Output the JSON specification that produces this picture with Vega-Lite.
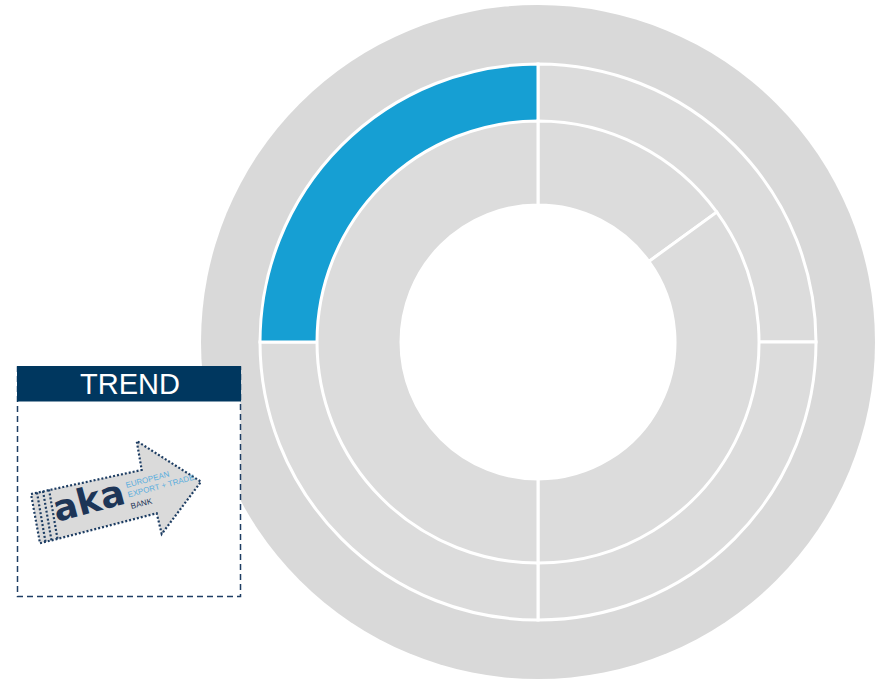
{
  "$schema": "https://vega.github.io/schema/vega-lite/v6.json",
  "width": 886,
  "height": 680,
  "padding": 0,
  "autosize": {"type": "none"},
  "background": "white",
  "config": {"view": {"stroke": null}},
  "datasets": {
    "outer": [
      {"segment": "Q1", "ord": 1, "value": 25, "highlight": "no"},
      {"segment": "Q2", "ord": 2, "value": 25, "highlight": "no"},
      {"segment": "Q3", "ord": 3, "value": 25, "highlight": "no"},
      {"segment": "Q4", "ord": 4, "value": 25, "highlight": "yes"}
    ],
    "inner": [
      {"segment": "A", "ord": 1, "value": 15},
      {"segment": "B", "ord": 2, "value": 35},
      {"segment": "C", "ord": 3, "value": 50}
    ],
    "arrow": [
      {"i": 0, "px": 31, "py": 494},
      {"i": 1, "px": 141.7, "py": 470},
      {"i": 2, "px": 136.7, "py": 441},
      {"i": 3, "px": 201, "py": 481.7},
      {"i": 4, "px": 161.7, "py": 534},
      {"i": 5, "px": 156.7, "py": 513.3},
      {"i": 6, "px": 40, "py": 543.3},
      {"i": 7, "px": 31, "py": 494}
    ],
    "perf": [
      {"line": "p1", "i": 0, "px": 37, "py": 492.5},
      {"line": "p1", "i": 1, "px": 45.5, "py": 542},
      {"line": "p2", "i": 0, "px": 43, "py": 491},
      {"line": "p2", "i": 1, "px": 51.5, "py": 540.5},
      {"line": "p3", "i": 0, "px": 49, "py": 489.5},
      {"line": "p3", "i": 1, "px": 57.5, "py": 539}
    ]
  },
  "layer": [
    {
      "data": {"values": [{}]},
      "mark": {"type": "arc", "radius": 337, "theta": 0, "theta2": 6.2832, "fill": "#d9d9d9"},
      "encoding": {
        "x": {"datum": 538, "type": "quantitative", "scale": {"domain": [0, 886], "nice": false, "zero": false}, "axis": null},
        "y": {"datum": 342, "type": "quantitative", "scale": {"domain": [680, 0], "nice": false, "zero": false}, "axis": null}
      }
    },
    {
      "data": {"name": "outer"},
      "mark": {"type": "arc", "radius": 278, "radius2": 219, "stroke": "white", "strokeWidth": 3},
      "encoding": {
        "theta": {"field": "value", "type": "quantitative", "stack": true},
        "order": {"field": "ord"},
        "color": {"field": "highlight", "type": "nominal", "scale": {"domain": ["no", "yes"], "range": ["#dcdcdc", "#169fd3"]}, "legend": null},
        "x": {"datum": 538, "type": "quantitative"},
        "y": {"datum": 342, "type": "quantitative"}
      }
    },
    {
      "data": {"name": "inner"},
      "mark": {"type": "arc", "radius": 221, "radius2": 137, "fill": "#dcdcdc", "stroke": "white", "strokeWidth": 3},
      "encoding": {
        "theta": {"field": "value", "type": "quantitative", "stack": true},
        "order": {"field": "ord"},
        "x": {"datum": 538, "type": "quantitative"},
        "y": {"datum": 342, "type": "quantitative"}
      }
    },
    {
      "data": {"values": [{}]},
      "mark": {"type": "arc", "radius": 137, "theta": 0, "theta2": 6.2832, "fill": "white"},
      "encoding": {
        "x": {"datum": 538, "type": "quantitative"},
        "y": {"datum": 342, "type": "quantitative"}
      }
    },
    {
      "data": {"values": [{}]},
      "mark": {"type": "rect", "fill": "white", "stroke": "#1d3d63", "strokeWidth": 1.5, "strokeDash": [6, 4]},
      "encoding": {
        "x": {"datum": 17.5, "type": "quantitative"},
        "x2": {"datum": 240.5},
        "y": {"datum": 367, "type": "quantitative"},
        "y2": {"datum": 596.5}
      }
    },
    {
      "data": {"values": [{}]},
      "mark": {"type": "rect", "fill": "#00375f"},
      "encoding": {
        "x": {"datum": 17, "type": "quantitative"},
        "x2": {"datum": 241},
        "y": {"datum": 366, "type": "quantitative"},
        "y2": {"datum": 401.5}
      }
    },
    {
      "data": {"values": [{"label": "TREND"}]},
      "mark": {"type": "text", "font": "Liberation Sans", "fontSize": 29, "color": "white", "align": "center", "baseline": "middle"},
      "encoding": {
        "text": {"field": "label"},
        "x": {"datum": 130, "type": "quantitative"},
        "y": {"datum": 385, "type": "quantitative"}
      }
    },
    {
      "data": {"name": "arrow"},
      "mark": {"type": "line", "fill": "#dadada", "stroke": "#1d3d63", "strokeWidth": 2.2, "strokeDash": [2, 2], "interpolate": "linear"},
      "encoding": {
        "x": {"field": "px", "type": "quantitative"},
        "y": {"field": "py", "type": "quantitative"},
        "order": {"field": "i"}
      }
    },
    {
      "data": {"name": "perf"},
      "mark": {"type": "line", "stroke": "#1d3d63", "strokeWidth": 2.2, "strokeDash": [2, 2]},
      "encoding": {
        "x": {"field": "px", "type": "quantitative"},
        "y": {"field": "py", "type": "quantitative"},
        "detail": {"field": "line"},
        "order": {"field": "i"}
      }
    },
    {
      "data": {"values": [{"label": "aka"}]},
      "mark": {"type": "text", "font": "DejaVu Sans", "fontWeight": "bold", "fontSize": 36, "color": "#1d3557", "align": "center", "baseline": "middle", "angle": -15},
      "encoding": {
        "text": {"field": "label"},
        "x": {"datum": 89, "type": "quantitative"},
        "y": {"datum": 502, "type": "quantitative"}
      }
    },
    {
      "data": {"values": [
        {"label": "EUROPEAN", "lx": 126.5, "ly": 488, "kind": "a"},
        {"label": "EXPORT + TRADE", "lx": 128.5, "ly": 497.5, "kind": "a"},
        {"label": "BANK", "lx": 131.5, "ly": 509, "kind": "b"}
      ]},
      "mark": {"type": "text", "font": "Liberation Sans", "fontSize": 8, "align": "left", "baseline": "alphabetic", "angle": -15},
      "encoding": {
        "text": {"field": "label"},
        "x": {"field": "lx", "type": "quantitative"},
        "y": {"field": "ly", "type": "quantitative"},
        "color": {"field": "kind", "type": "nominal", "scale": {"domain": ["a", "b"], "range": ["#5aaede", "#1d3557"]}, "legend": null}
      }
    }
  ],
  "resolve": {"scale": {"theta": "independent", "color": "independent"}}
}
